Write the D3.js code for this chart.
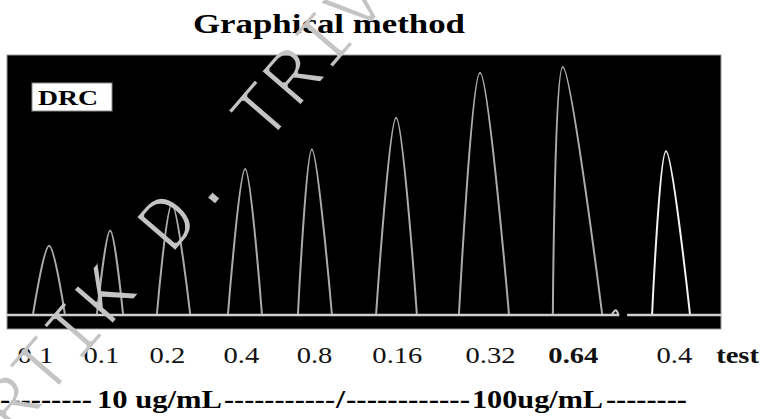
<!DOCTYPE html>
<html>
<head>
<meta charset="utf-8">
<script src="https://cdn.jsdelivr.net/npm/d3@7"></script>
<style>
  body { margin: 0; background: #fff; }
  svg { display: block; }
</style>
</head>
<body>
<svg id="canvas" width="764" height="419"></svg>
<script>
// peak positions (minutes) and heights (% response)
const peakStart = [0.73, 2.52, 4.20, 6.19, 8.15, 10.34, 12.66, 15.29, 18.07];
const peakApex = [1.18, 2.89, 4.62, 6.67, 8.54, 10.90, 13.25, 15.57, 18.46];
const peakEnd = [1.62, 3.25, 5.13, 7.14, 9.10, 11.48, 14.06, 16.67, 19.13];
const peakHeight = [26.7, 32.6, 43.0, 56.6, 64.3, 76.7, 94.2, 96.5, 63.6];
const peakIsTest = [false, false, false, false, false, false, false, false, true];

const tickPos = [0.78, 2.63, 4.48, 6.55, 8.60, 10.92, 13.53, 15.85, 18.68, 20.45];
const tickLabels = ['0.1', '0.1', '0.2', '0.4', '0.8', '0.16', '0.32', '0.64', '0.4', 'test'];
const tickBold = [false, false, false, false, false, false, false, true, false, true];

const serif = '"Liberation Serif", "Times New Roman", Times, serif';

const canvas = d3.select('#canvas');

const panel = { left: 7, right: 721, top: 55, bottom: 329, base: 314 };

const xScale = d3.scaleLinear().domain([0, 20]).range([panel.left, panel.right]);
const yScale = d3.scaleLinear().domain([0, 100]).range([panel.base, panel.top + 3]);

// thins the watermark strokes
canvas.append('defs')
  .append('filter')
  .attr('id', 'thin')
  .append('feMorphology')
  .attr('operator', 'erode')
  .attr('radius', 1.4);

// title
canvas.append('text')
  .attr('x', 329)
  .attr('y', 33)
  .attr('text-anchor', 'middle')
  .attr('textLength', 272)
  .attr('lengthAdjust', 'spacingAndGlyphs')
  .style('font-family', serif)
  .style('font-weight', 'bold')
  .style('font-size', '28px')
  .text('Graphical method');

// black panel
canvas.append('rect')
  .attr('x', panel.left)
  .attr('y', panel.top)
  .attr('width', panel.right - panel.left)
  .attr('height', panel.bottom - panel.top)
  .attr('fill', '#000')
  .attr('stroke', '#9a9a9a')
  .attr('stroke-width', 1);

// baseline, with the small break near 17 min
canvas.append('line')
  .attr('x1', panel.left).attr('x2', xScale(17.15))
  .attr('y1', panel.base + 1).attr('y2', panel.base + 1)
  .attr('stroke', '#cfcfcf').attr('stroke-width', 2.5);
canvas.append('line')
  .attr('x1', xScale(17.37)).attr('x2', panel.right)
  .attr('y1', panel.base + 1).attr('y2', panel.base + 1)
  .attr('stroke', '#cfcfcf').attr('stroke-width', 2.5);

let peakLine = d3.line()
  .x((d) => xScale(d[0]))
  .y((d) => yScale(d[1]))
  .curve(d3.curveCardinal.tension(0));

canvas.selectAll('path.peak')
  .data(peakApex)
  .enter()
  .append('path')
  .attr('class', 'peak')
  .attr('d', (apex, i) => peakLine([[peakStart[i], 0], [apex, peakHeight[i]], [peakEnd[i], 0]]))
  .attr('fill', 'none')
  .attr('stroke', (d, i) => (peakIsTest[i] ? '#f2f2f2' : '#ababab'))
  .attr('stroke-width', 2);

// little blip on the baseline
canvas.append('path')
  .attr('d', peakLine([[16.95, 0], [17.05, 1.5], [17.12, 0]]))
  .attr('fill', 'none')
  .attr('stroke', '#cfcfcf')
  .attr('stroke-width', 2);

// DRC box
canvas.append('rect')
  .attr('x', 32).attr('y', 83)
  .attr('width', 80).attr('height', 28)
  .attr('fill', '#fff')
  .attr('stroke', '#8a8a8a');
canvas.append('text')
  .attr('x', 38)
  .attr('y', 105)
  .attr('textLength', 60)
  .attr('lengthAdjust', 'spacingAndGlyphs')
  .style('font-family', serif)
  .style('font-weight', 'bold')
  .style('font-size', '22px')
  .text('DRC');

// concentration labels
let xAxis = d3.axisBottom(xScale)
  .tickValues(tickPos)
  .tickSize(0)
  .tickPadding(0)
  .tickFormat((d, i) => tickLabels[i]);

let axisG = canvas.append('g')
  .attr('transform', 'translate(0, 346)')
  .call(xAxis);
axisG.select('.domain').remove();
axisG.selectAll('text')
  .attr('fill', '#111')
  .style('font-family', serif)
  .style('font-size', '24px')
  .style('font-weight', (d, i) => (tickBold[i] ? 'bold' : 'normal'))
  .attr('dy', '0.71em')
  .each(function () {
    let w = this.getComputedTextLength();
    d3.select(this)
      .attr('textLength', w * 1.19)
      .attr('lengthAdjust', 'spacingAndGlyphs');
  });

// bottom dose line
const bottomPieces = [
  { text: '---------', x: 0, len: 92 },
  { text: '10 ug/mL', x: 97, len: 125 },
  { text: '-----------', x: 224, len: 111 },
  { text: '/', x: 336, len: 9 },
  { text: '------------', x: 346, len: 124 },
  { text: '100ug/mL', x: 472, len: 131 },
  { text: '--------', x: 606, len: 81 }
];
canvas.selectAll('text.dose')
  .data(bottomPieces)
  .enter()
  .append('text')
  .attr('class', 'dose')
  .attr('x', (d) => d.x)
  .attr('y', 408)
  .attr('textLength', (d) => d.len)
  .attr('lengthAdjust', 'spacingAndGlyphs')
  .style('font-family', serif)
  .style('font-weight', 'bold')
  .style('font-size', '25px')
  .text((d) => d.text);

// watermark
canvas.append('g')
  .attr('filter', 'url(#thin)')
  .append('g')
  .attr('transform', 'translate(108, 297) rotate(-49.3)')
  .append('text')
  .attr('x', -264)
  .attr('y', 0)
  .attr('dominant-baseline', 'central')
  .attr('fill', '#c4c4c4')
  .style('font-family', '"Liberation Mono", monospace')
  .style('font-size', '80px')
  .text('KARTIK D. TRIVEDI');
</script>
</body>
</html>
